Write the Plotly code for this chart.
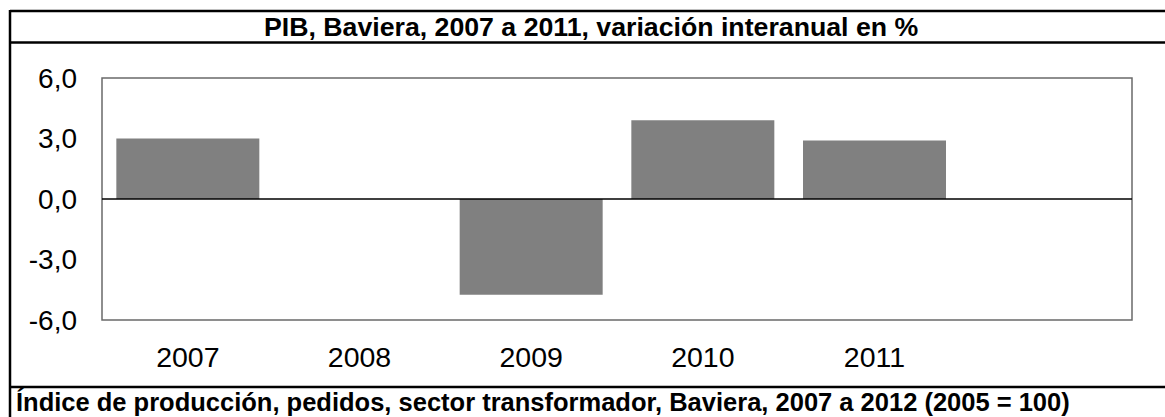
import plotly.graph_objects as go

# Data
years = [2007, 2008, 2009, 2010, 2011]
pib_change = [3.0, 0.0, -4.75, 3.9, 2.9]
year_labels = ["2007", "2008", "2009", "2010", "2011"]
y_ticks = [-6, -3, 0, 3, 6]
y_tick_labels = ["-6,0", "-3,0", "0,0", "3,0", "6,0"]

title_text = "PIB, Baviera, 2007 a 2011, variación interanual en %"
bottom_text = "Índice de producción, pedidos, sector transformador, Baviera, 2007 a 2012 (2005 = 100)"

FONT = "Liberation Sans, Arial, sans-serif"

fig = go.Figure()
fig.add_trace(go.Bar(
    x=years, y=pib_change,
    marker=dict(color="#808080", line=dict(width=0)),
    hoverinfo="x+y",
))

W, H = 1165, 417
L, R, T, B = 102, 33, 78, 97
pw, ph = W - L - R, H - T - B

def px_x(x):
    return (x - L) / pw

def px_y(y):
    return (H - B - y) / ph

shapes = [
    # plot frame
    dict(type="rect", xref="paper", yref="paper", x0=0, x1=1, y0=0, y1=1,
         line=dict(color="#6a6a6a", width=1.5), layer="above"),
    # zero line above bars
    dict(type="line", xref="paper", yref="y", x0=0, x1=1, y0=0, y1=0,
         line=dict(color="black", width=1.5), layer="above"),
    # outer frame lines
    dict(type="line", xref="paper", yref="paper", x0=px_x(10), x1=px_x(10),
         y0=px_y(10), y1=px_y(430), line=dict(color="black", width=2.5)),
    dict(type="line", xref="paper", yref="paper", x0=px_x(10), x1=px_x(1180),
         y0=px_y(11), y1=px_y(11), line=dict(color="black", width=2.5)),
    dict(type="line", xref="paper", yref="paper", x0=px_x(10), x1=px_x(1180),
         y0=px_y(42.5), y1=px_y(42.5), line=dict(color="black", width=2.5)),
    dict(type="line", xref="paper", yref="paper", x0=px_x(10), x1=px_x(1180),
         y0=px_y(387), y1=px_y(387), line=dict(color="black", width=2.5)),
]

annotations = [
    dict(text="<b>" + title_text + "</b>", xref="paper", yref="paper",
         x=px_x(591), y=px_y(27), xanchor="center", yanchor="middle",
         showarrow=False, font=dict(family=FONT, size=26.7, color="black")),
    dict(text="<b>" + bottom_text + "</b>", xref="paper", yref="paper",
         x=px_x(14), y=px_y(402), xanchor="left", yanchor="middle",
         showarrow=False, font=dict(family=FONT, size=25.5, color="black")),
]

fig.update_layout(
    width=W, height=H,
    margin=dict(l=L, r=R, t=T, b=B),
    paper_bgcolor="white", plot_bgcolor="white",
    showlegend=False,
    bargap=0.167,
    shapes=shapes,
    annotations=annotations,
    font=dict(family=FONT, size=28, color="black"),
)
fig.update_xaxes(
    range=[2006.5, 2012.5], tickvals=years, ticktext=year_labels,
    showgrid=False, zeroline=False, showline=False, ticks="",
    ticklabelstandoff=17, tickfont=dict(family=FONT, size=28.5, color="black"),
)
fig.update_yaxes(
    range=[-6, 6], tickvals=y_ticks, ticktext=y_tick_labels,
    showgrid=False, zeroline=False,
    showline=False, ticks="", ticklabelstandoff=24,
    tickfont=dict(family=FONT, size=28, color="black"),
)

fig.write_html("out.html",
               config={"displayModeBar": False},
               post_script="document.body.style.margin='0';document.body.style.overflow='hidden';")
